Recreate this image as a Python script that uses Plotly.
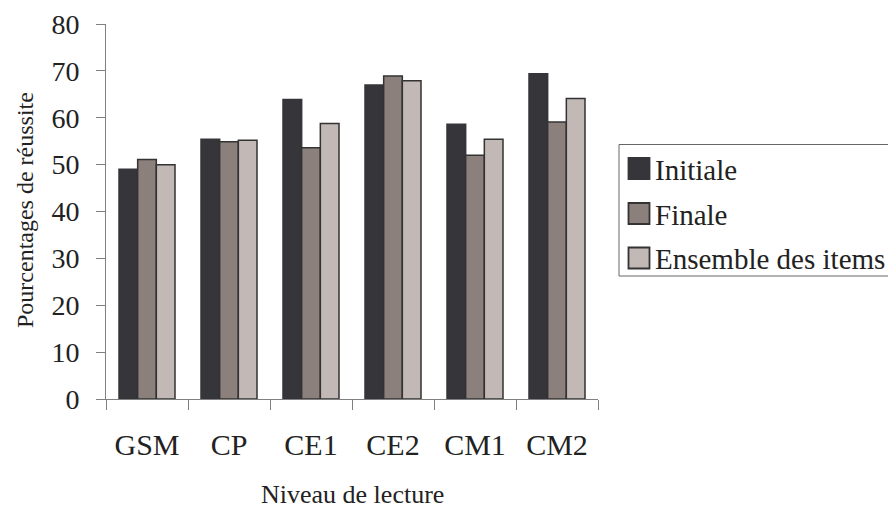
import plotly.graph_objects as go

categories = ["GSM", "CP", "CE1", "CE2", "CM1", "CM2"]
initiale = [49.0, 55.4, 63.9, 67.0, 58.6, 69.4]
finale = [51.1, 54.9, 53.6, 68.9, 52.0, 59.1]
ensemble = [50.0, 55.2, 58.8, 67.9, 55.4, 64.1]

series_names = ["Initiale", "Finale", "Ensemble des items"]
series_values = [initiale, finale, ensemble]
series_colors = ["#36353a", "#8c807c", "#c2b8b6"]
series_lines = ["#36353a", "#333333", "#333333"]

FONT = "Liberation Serif"
TXT = "#222222"

# plot area in reference pixels; the page body adds an 8px offset
OFF = 8
L, R, T, B = 106, 598, 24, 399
W, H = 896 - OFF, 510 - OFF


def px_x(p):
    return (p - L) / (R - L)


def px_y(p):
    return (B - p) / (B - T)


fig = go.Figure()
for name, vals, col, lc in zip(series_names, series_values, series_colors, series_lines):
    fig.add_trace(go.Bar(
        x=categories, y=vals, name=name, showlegend=False,
        marker=dict(color=col, line=dict(color=lc, width=1.5)),
    ))

shapes = [dict(type="rect", xref="paper", yref="paper",
               x0=px_x(619), x1=px_x(899), y0=px_y(144.5), y1=px_y(276),
               line=dict(color="#666666", width=1), fillcolor="rgba(0,0,0,0)")]
annotations = []
row_centers = [168.5, 213.5, 258.0]
for name, col, lc, cy in zip(series_names, series_colors, series_lines, row_centers):
    shapes.append(dict(type="rect", xref="paper", yref="paper",
                       x0=px_x(628.5), x1=px_x(649.5),
                       y0=px_y(cy - 10.5), y1=px_y(cy + 10.5),
                       line=dict(color=lc, width=1.8), fillcolor=col))
    annotations.append(dict(text=name, xref="paper", yref="paper",
                            x=px_x(653), y=px_y(cy + 1), xanchor="left", yanchor="middle",
                            showarrow=False, font=dict(family=FONT, size=29, color=TXT)))

annotations.append(dict(text="Niveau de lecture", xref="paper", yref="paper",
                        x=px_x(352), y=px_y(494), xanchor="center", yanchor="middle",
                        showarrow=False, font=dict(family=FONT, size=26, color=TXT)))
annotations.append(dict(text="Pourcentages de réussite", xref="paper", yref="paper",
                        x=px_x(25), y=px_y(210), xanchor="center", yanchor="middle",
                        textangle=-90,
                        showarrow=False, font=dict(family=FONT, size=24, color=TXT)))

fig.update_layout(
    width=W, height=H,
    margin=dict(l=L - OFF, r=W - (R - OFF), t=T - OFF, b=H - (B - OFF), autoexpand=False),
    paper_bgcolor="white", plot_bgcolor="white",
    barmode="group", bargap=0.317, bargroupgap=0,
    font=dict(family=FONT, color=TXT, size=28),
    showlegend=False,
    shapes=shapes,
    annotations=annotations,
    xaxis=dict(
        automargin=False,
        showline=True, linecolor="#808080", linewidth=1,
        ticks="outside", ticklen=10, tickcolor="#808080",
        tickson="boundaries", ticklabelstandoff=19,
        tickfont=dict(family=FONT, size=30, color=TXT),
        showgrid=False,
    ),
    yaxis=dict(
        automargin=False,
        range=[0, 80], dtick=10,
        showline=True, linecolor="#808080", linewidth=1,
        ticks="outside", ticklen=9, tickcolor="#808080",
        ticklabelstandoff=11,
        tickfont=dict(family=FONT, size=28, color=TXT),
        showgrid=False, zeroline=False,
    ),
)

fig.write_html("out.html")
